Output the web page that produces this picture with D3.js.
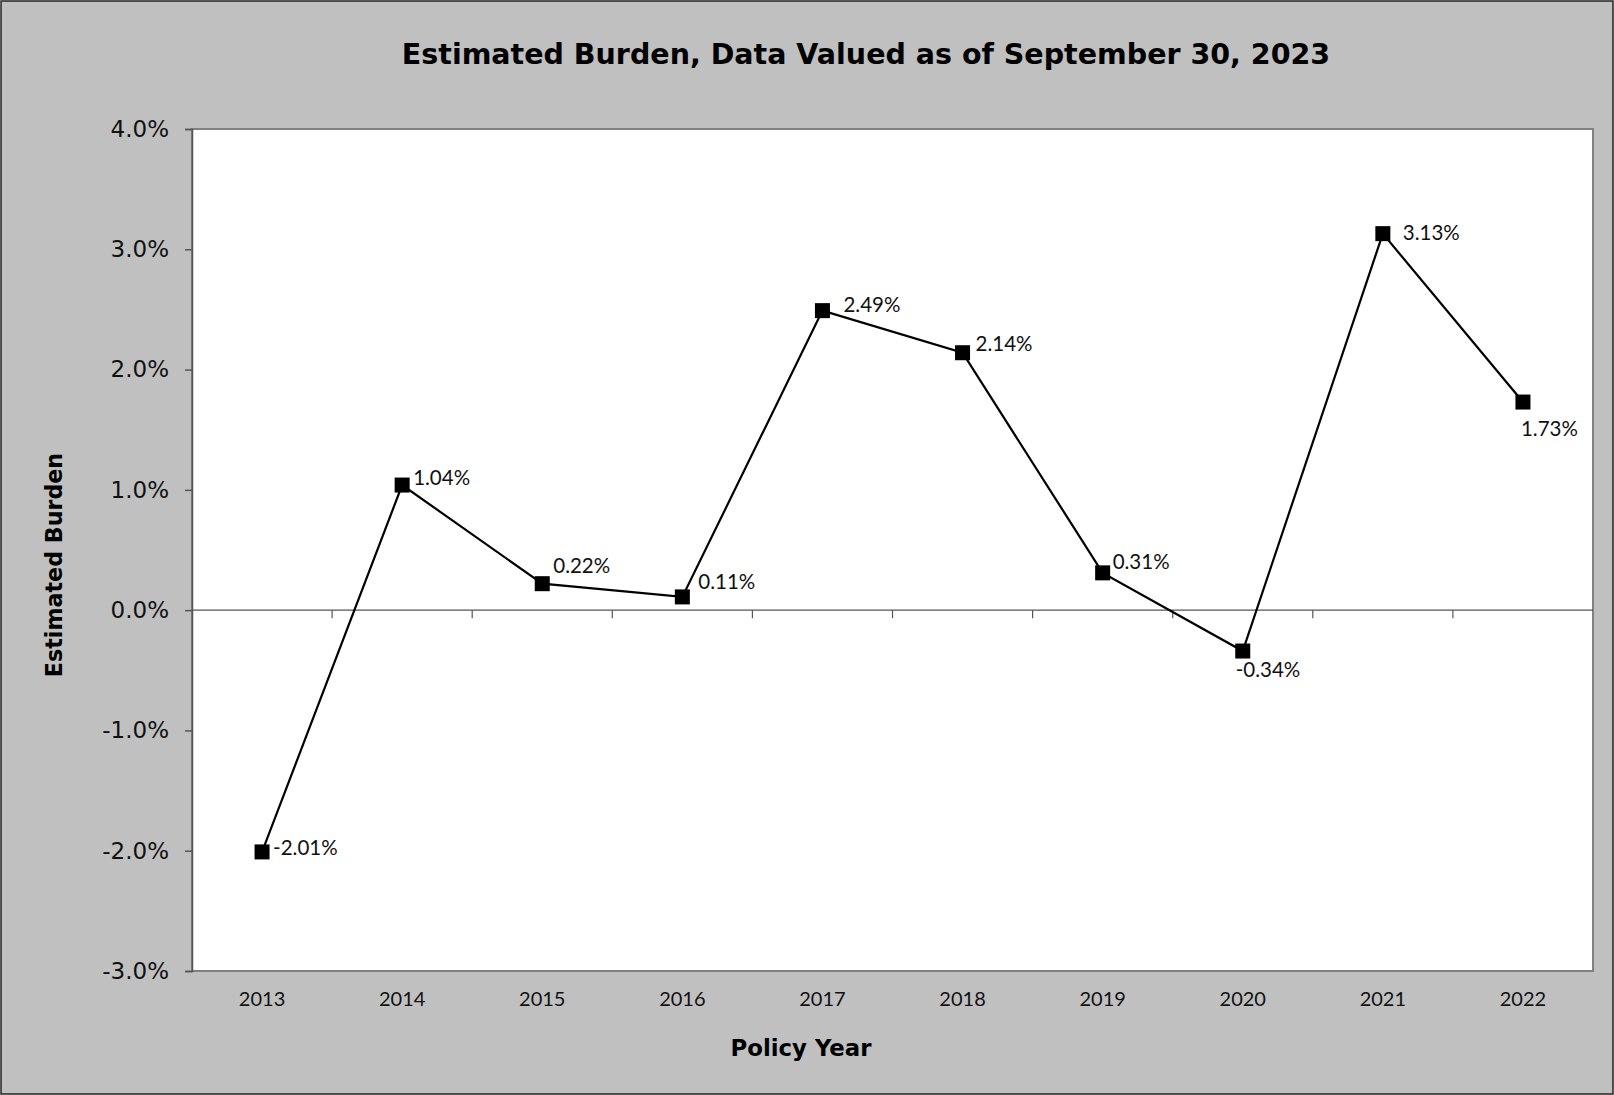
<!DOCTYPE html>
<html>
<head>
<meta charset="utf-8">
<script src="https://cdn.jsdelivr.net/npm/d3@7"></script>
<style>
  html, body { margin: 0; padding: 0; background: #fff; }
  svg { display: block; }
</style>
</head>
<body>
<div id="chart"></div>
<script>

var years = ["2013", "2014", "2015", "2016", "2017", "2018", "2019", "2020", "2021", "2022"];
var burden = [-2.01, 1.04, 0.22, 0.11, 2.49, 2.14, 0.31, -0.34, 3.13, 1.73];
var yTicks = [-3, -2, -1, 0, 1, 2, 3, 4];
// label placement, px from the marker centre to the start/middle of the text
var labelDx = [11, 11, 11, 16, 21, 13, 10, -7, 20, -2];
var labelDy = [-4, -7, -18, -15, -6, -9, -11, 19, -1, 27];

var W = 1614, H = 1095;
var margin = {top: 129, right: 21, bottom: 124, left: 192};

// plain hyphen for negatives, like the original
var fmt = d3.formatLocale({decimal: ".", thousands: ",", grouping: [3], currency: ["$", ""], minus: "-"});
var f1 = fmt.format(".1f"), f2 = fmt.format(".2f");

var svg = d3.select("#chart").append("svg")
    .attr("width", W)
    .attr("height", H);

// chart area background + frame
svg.append("rect")
    .attr("x", 1).attr("y", 1)
    .attr("width", W - 2).attr("height", H - 2)
    .attr("fill", "#c0c0c0")
    .attr("stroke", "#222").attr("stroke-width", 1.5);

var x = d3.scaleBand()
    .domain(years)
    .range([margin.left, W - margin.right]);

var y = d3.scaleLinear()
    .domain([-3, 4])
    .range([H - margin.bottom, margin.top]);

// plot area
svg.append("rect")
    .attr("x", margin.left).attr("y", margin.top)
    .attr("width", W - margin.left - margin.right)
    .attr("height", H - margin.top - margin.bottom)
    .attr("fill", "#fff")
    .attr("stroke", "#808080").attr("stroke-width", 2);

// y axis
var yAxis = svg.append("g")
    .attr("transform", "translate(" + margin.left + ",0)")
    .call(d3.axisLeft(y).tickValues(yTicks).tickSize(7).tickPadding(16)
        .tickFormat(function(d) { return f1(d) + "%"; }));
yAxis.select(".domain").attr("stroke", "#555").attr("stroke-width", 1.5);
yAxis.selectAll(".tick line").attr("stroke", "#555").attr("stroke-width", 1.5);
yAxis.selectAll("text")
    .attr("fill", "#111")
    .style("font-family", "'DejaVu Sans', Verdana, sans-serif")
    .style("font-size", "23px");

// zero line with category ticks between bands
var xAxis = svg.append("g")
    .attr("transform", "translate(0," + y(0) + ")");
xAxis.append("line")
    .attr("x1", margin.left).attr("x2", W - margin.right)
    .attr("stroke", "#555").attr("stroke-width", 1.2);
xAxis.selectAll("line.sep")
    .data(years.slice(1))
    .enter().append("line")
    .attr("class", "sep")
    .attr("x1", function(d) { return x(d); })
    .attr("x2", function(d) { return x(d); })
    .attr("y1", 0).attr("y2", 8)
    .attr("stroke", "#555").attr("stroke-width", 1.2);

// category labels along the bottom
svg.append("g").selectAll("text")
    .data(years)
    .enter().append("text")
    .attr("x", function(d) { return x(d) + x.bandwidth() / 2; })
    .attr("y", H - margin.bottom + 35)
    .attr("text-anchor", "middle")
    .attr("fill", "#111")
    .style("font-family", "Lato, 'Open Sans', sans-serif")
    .style("font-size", "20px")
    .text(function(d) { return d; });

// series line
var line = d3.line()
    .x(function(d, i) { return x(years[i]) + x.bandwidth() / 2; })
    .y(function(d) { return y(d); });

svg.append("path")
    .datum(burden)
    .attr("d", line)
    .attr("fill", "none")
    .attr("stroke", "#000")
    .attr("stroke-width", 2.2);

// square markers
var ms = 15;
svg.append("g").selectAll("rect")
    .data(burden)
    .enter().append("rect")
    .attr("x", function(d, i) { return x(years[i]) + x.bandwidth() / 2 - ms / 2; })
    .attr("y", function(d) { return y(d) - ms / 2; })
    .attr("width", ms).attr("height", ms)
    .attr("fill", "#000");

// data labels
svg.append("g").selectAll("text")
    .data(burden)
    .enter().append("text")
    .attr("x", function(d, i) { return x(years[i]) + x.bandwidth() / 2 + labelDx[i]; })
    .attr("y", function(d, i) { return y(d) + labelDy[i]; })
    .attr("dy", "0.36em")
    .attr("fill", "#111")
    .style("font-family", "Lato, 'Open Sans', sans-serif")
    .style("font-size", "20.5px")
    .text(function(d) { return f2(d) + "%"; });

// titles
svg.append("text")
    .attr("x", 866)
    .attr("y", 64)
    .attr("text-anchor", "middle")
    .attr("fill", "#000")
    .style("font-family", "'DejaVu Sans', Verdana, sans-serif")
    .style("font-weight", "bold")
    .style("font-size", "28.5px")
    .text("Estimated Burden, Data Valued as of September 30, 2023");

svg.append("text")
    .attr("x", 801)
    .attr("y", H - 39)
    .attr("text-anchor", "middle")
    .attr("fill", "#000")
    .style("font-family", "'DejaVu Sans', Verdana, sans-serif")
    .style("font-weight", "bold")
    .style("font-size", "22.8px")
    .text("Policy Year");

svg.append("text")
    .attr("transform", "translate(62,565) rotate(-90)")
    .attr("text-anchor", "middle")
    .attr("fill", "#000")
    .style("font-family", "'DejaVu Sans', Verdana, sans-serif")
    .style("font-weight", "bold")
    .style("font-size", "22.2px")
    .text("Estimated Burden");

</script>
</body>
</html>
